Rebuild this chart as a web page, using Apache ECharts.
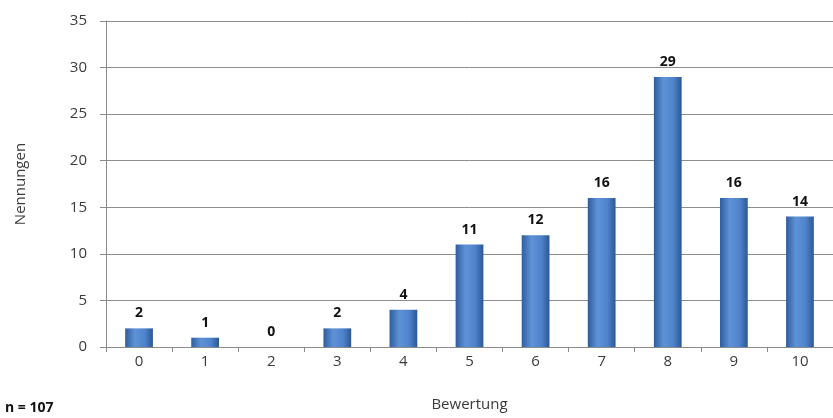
<!DOCTYPE html>
<html>
<head>
<meta charset="utf-8">
<script src="https://cdn.jsdelivr.net/npm/echarts@6/dist/echarts.min.js"></script>
<style>
  html, body { margin: 0; padding: 0; background: #fff; }
  #chart { width: 833px; height: 418px; }
</style>
</head>
<body>
<div id="chart"></div>
<script>
// Ratings 0..10 and number of mentions per rating
const categories = ['0', '1', '2', '3', '4', '5', '6', '7', '8', '9', '10'];
const mentions = [2, 1, 0, 2, 4, 11, 12, 16, 29, 16, 14];
const yTicks = { min: 0, max: 35, interval: 5 };
const sampleNote = 'n = 107';

const font = '"Open Sans", "Noto Sans", sans-serif';
const chart = echarts.init(document.getElementById('chart'));

const barFill = new echarts.graphic.LinearGradient(0, 0, 1, 0, [
  { offset: 0, color: '#2f5d9c' },
  { offset: 0.35, color: '#5e92d8' },
  { offset: 0.7, color: '#4f84cc' },
  { offset: 1, color: '#2c5894' }
]);

chart.setOption({
  animation: false,
  grid: { left: 106, top: 21, width: 730, height: 326, containLabel: false },
  xAxis: {
    type: 'category',
    data: categories,
    name: 'Bewertung',
    nameLocation: 'middle',
    nameGap: 50,
    nameTextStyle: { fontFamily: font, fontSize: 15, color: '#3a3a3a' },
    axisLine: { lineStyle: { color: '#8a8a8a', width: 1 } },
    axisTick: { show: true, alignWithLabel: false, length: 5, lineStyle: { color: '#8a8a8a' } },
    axisLabel: { fontFamily: font, fontSize: 15, color: '#3a3a3a', margin: 7 }
  },
  yAxis: {
    type: 'value',
    min: yTicks.min,
    max: yTicks.max,
    interval: yTicks.interval,
    name: 'Nennungen',
    nameLocation: 'middle',
    nameGap: 78,
    nameRotate: 90,
    nameTextStyle: { fontFamily: font, fontSize: 15, color: '#3a3a3a' },
    axisLine: { show: true, lineStyle: { color: '#8a8a8a', width: 1 } },
    axisTick: { show: true, length: 6, lineStyle: { color: '#8a8a8a' } },
    axisLabel: { fontFamily: font, fontSize: 15, color: '#3a3a3a', margin: 19 },
    splitLine: { show: true, lineStyle: { color: '#8c8c8c', width: 1 } }
  },
  series: [{
    type: 'bar',
    data: mentions,
    barWidth: '42%',
    itemStyle: {
      color: barFill,
      borderWidth: 0
    },
    label: {
      show: true,
      position: 'top',
      distance: 8,
      fontFamily: font,
      fontSize: 14,
      fontWeight: 'bold',
      color: '#111'
    }
  }],
  graphic: [{
    type: 'text',
    left: 5,
    top: 401,
    style: { text: sampleNote, fontFamily: font, fontSize: 14, fontWeight: 'bold', fill: '#111' }
  }]
});
</script>
</body>
</html>
